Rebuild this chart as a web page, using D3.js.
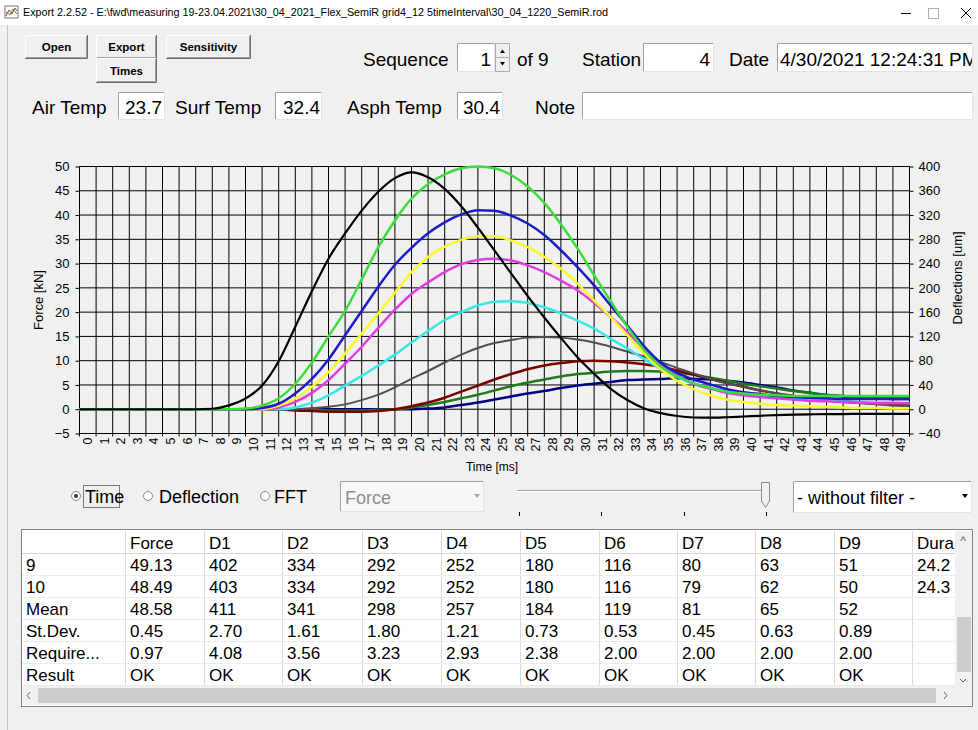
<!DOCTYPE html>
<html>
<head>
<meta charset="utf-8">
<script src="https://cdn.jsdelivr.net/npm/d3@7"></script>
<style>
  body { margin: 0; background: #f0f0f0; overflow: hidden; }
  svg { display: block; font-family: "Liberation Sans", Arial, sans-serif; }
</style>
</head>
<body>
<svg id="app"></svg>
<script>
// ---- data ----
const timeMs = [0,1,2,3,4,5,6,7,8,9,10,11,12,13,14,15,16,17,18,19,20,21,22,23,24,25,
  26,27,28,29,30,31,32,33,34,35,36,37,38,39,40,41,42,43,44,45,46,47,48,49,50];
const timeTickLabels = ["0","1","2","3","4","5","6","7","8","9","10","11","12","13","14","15","16",
  "17","18","19","20","21","22","23","24","25","26","27","28","29","30","31","32","33","34","35",
  "36","37","38","39","40","41","42","43","44","45","46","47","48","49"];
const forceTicks = [-5,0,5,10,15,20,25,30,35,40,45,50];
const deflTicks = [-40,0,40,80,120,160,200,240,280,320,360,400];

// force [kN]
const force = [0,0,0,0,0,0,0,0,0.1,0.8,2.2,4.9,9.9,17.0,24.3,31.0,36.2,40.9,44.8,47.6,48.8,
  47.8,45.4,41.8,37.4,32.7,28.0,23.3,18.9,14.7,10.7,7.3,4.2,1.9,0.2,-0.8,-1.4,-1.7,-1.75,
  -1.65,-1.5,-1.35,-1.2,-1.1,-1.05,-1.0,-1.0,-0.95,-0.95,-0.95,-0.95];
// deflections [um]
const defl1 = [0,0,0,0,0,0,0,0,0,0,1,6,18,42,77,120,162,214,267,311,347,371,387,397,400,397,386,
  367,340,305,265,221,178,136,98,71,54,43,35,29,26,24,23,22,22,22,22,22,22,22,22];
const defl2 = [0,0,0,0,0,0,0,0,0,0,0,2,9,26,50,82,122,162,202,238,266,290,308,321,328,327,319,
  306,287,262,234,204,171,138,104,77,60,49,41,33,28,25,22,20,19,18,17,17,17,17,17];
const defl3 = [0,0,0,0,0,0,0,0,0,0,0,0,6,18,37,61,92,125,158,192,226,251,268,279,285,285,278,
  267,251,232,207,179,152,122,92,66,47,33,23,16,12,9,7,6,5,4,3,2,2,1,1];
const defl4 = [0,0,0,0,0,0,0,0,0,0,0,0,3,12,27,48,75,103,134,164,190,209,226,239,246,248,245,
  237,226,212,196,175,152,127,100,75,56,42,34,27,23,20,18,16,14,13,12,11,10,10,10];
const defl5 = [0,0,0,0,0,0,0,0,0,0,0,0,0,3,11,23,39,55,72,90,110,129,147,160,171,177,178,
  175,168,158,146,133,116,100,83,67,53,42,35,29,25,22,19,17,15,14,13,12,11,11,10];
const defl6 = [0,0,0,0,0,0,0,0,0,0,0,0,0,0,2,4,8,15,24,36,50,63,77,90,101,109,114,
  118,119,118,115,110,103,95,87,78,68,59,50,43,37,31,26,22,18,15,12,10,8,6,5];
const defl7 = [0,0,0,0,0,0,0,0,0,0,0,0,0,-2,-3,-4,-4,-4,-3,0,5,11,19,29,39,49,58,
  66,72,76,79,80,79,77,74,70,64,57,50,43,37,31,26,22,18,15,13,11,9,8,7];
const defl8 = [0,0,0,0,0,0,0,0,0,0,0,0,0,0,-1,-2,-2,-2,-1,0,3,7,12,18,24,31,38,
  44,49,54,58,60,62,63,63,62,60,57,52,47,42,38,34,30,27,24,22,20,19,18,18];
const defl9 = [0,0,0,0,0,0,0,0,0,0,0,0,0,0,0,0,0,0,0,0,0,1,3,7,11,16,21,
  26,30,35,39,42,45,48,49,50,51,50,49,47,44,40,36,31,27,23,21,19,18,17,17];

const seriesNames = ["D9","D8","D7","D6","D5","D4","D3","D2","D1"];
const seriesColors = ["#000080","#1d7a1d","#7a0000","#505050","#38e8e8","#e03ce0","#f8f82a","#1c1cc8","#3cdc3c"];
const seriesValues = [defl9, defl8, defl7, defl6, defl5, defl4, defl3, defl2, defl1];

// table
const tableHeader = ["", "Force", "D1", "D2", "D3", "D4", "D5", "D6", "D7", "D8", "D9", "Dura"];
const rowLabels = ["9", "10", "Mean", "St.Dev.", "Require...", "Result"];
const row9 = ["49.13","402","334","292","252","180","116","80","63","51","24.2"];
const row10 = ["48.49","403","334","292","252","180","116","79","62","50","24.3"];
const rowMean = ["48.58","411","341","298","257","184","119","81","65","52",""];
const rowStDev = ["0.45","2.70","1.61","1.80","1.21","0.73","0.53","0.45","0.63","0.89",""];
const rowRequired = ["0.97","4.08","3.56","3.23","2.93","2.38","2.00","2.00","2.00","2.00",""];
const rowResult = ["OK","OK","OK","OK","OK","OK","OK","OK","OK","OK",""];
const tableRows = [row9, row10, rowMean, rowStDev, rowRequired, rowResult];

const W = 978, H = 730;
const svg = d3.select("#app").attr("width", W).attr("height", H);

svg.append("rect").attr("width", W).attr("height", H).attr("fill", "#f0f0f0");

// little text helper
function txt(g, x, y, s, o = {}) {
  return g.append("text")
    .attr("x", x).attr("y", y)
    .attr("font-size", o.size || 19)
    .attr("font-weight", o.weight || "normal")
    .attr("text-anchor", o.anchor || "start")
    .attr("fill", o.color || "#000")
    .text(s);
}
function sunkenBox(g, x, y, w, h, fill) {
  g.append("rect").attr("x", x).attr("y", y).attr("width", w).attr("height", h).attr("fill", fill || "#fff");
  g.append("path").attr("d", `M${x + 0.5},${y + h}V${y + 0.5}H${x + w}`).attr("stroke", "#a0a0a0").attr("fill", "none");
  g.append("path").attr("d", `M${x + w - 0.5},${y}V${y + h - 0.5}H${x}`).attr("stroke", "#e3e3e3").attr("fill", "none");
}
function button(g, x, y, w, h, label) {
  g.append("rect").attr("x", x).attr("y", y).attr("width", w).attr("height", h).attr("fill", "#f0f0f0");
  g.append("path").attr("d", `M${x + 0.5},${y + h}V${y + 0.5}H${x + w}`).attr("stroke", "#ffffff").attr("fill", "none");
  g.append("path").attr("d", `M${x + w - 0.5},${y}V${y + h - 0.5}H${x}`).attr("stroke", "#6e6e6e").attr("fill", "none");
  g.append("path").attr("d", `M${x + w - 1.5},${y + 1}V${y + h - 1.5}H${x + 1}`).attr("stroke", "#a0a0a0").attr("fill", "none");
  txt(g, x + w / 2, y + h / 2 + 4, label, { size: 11.5, weight: "bold", anchor: "middle" });
}

// ---- title bar ----
const titleBar = svg.append("g");
titleBar.append("rect").attr("width", W).attr("height", 25).attr("fill", "#fff");
titleBar.append("rect").attr("x", 5).attr("y", 6).attr("width", 13).attr("height", 12).attr("fill", "#fff").attr("stroke", "#777");
titleBar.append("path").attr("d", "M6,16L9,10L12,14L15,8L17,11").attr("stroke", "#d03030").attr("fill", "none");
titleBar.append("path").attr("d", "M6,12L10,15L13,9L17,14").attr("stroke", "#30a030").attr("fill", "none");
txt(titleBar, 23, 16, "Export 2.2.52 - E:\\fwd\\measuring 19-23.04.2021\\30_04_2021_Flex_SemiR grid4_12 5timeInterval\\30_04_1220_SemiR.rod", { size: 11 })
  .attr("textLength", 585).attr("lengthAdjust", "spacingAndGlyphs");
titleBar.append("line").attr("x1", 901).attr("x2", 911).attr("y1", 13.5).attr("y2", 13.5).attr("stroke", "#000");
titleBar.append("rect").attr("x", 928.5).attr("y", 8.5).attr("width", 10).attr("height", 10).attr("fill", "none").attr("stroke", "#b0b0b0");
titleBar.append("path").attr("d", "M961,8L971,18M971,8L961,18").attr("stroke", "#000");
svg.append("line").attr("x1", 7.5).attr("x2", 7.5).attr("y1", 25).attr("y2", H).attr("stroke", "#c4c4c4");

// ---- header controls ----
const hdr = svg.append("g");
button(hdr, 25, 35, 63, 24, "Open");
button(hdr, 96, 35, 61, 24, "Export");
button(hdr, 96, 58, 61, 25, "Times");
button(hdr, 166, 35, 85, 24, "Sensitivity");

txt(hdr, 363, 66, "Sequence");
sunkenBox(hdr, 457, 43, 38, 29);
txt(hdr, 491, 66, "1", { anchor: "end" });
// spinner
hdr.append("rect").attr("x", 495.5).attr("y", 43.5).attr("width", 14).attr("height", 14).attr("fill", "#f0f0f0").attr("stroke", "#adadad");
hdr.append("rect").attr("x", 495.5).attr("y", 57.5).attr("width", 14).attr("height", 14).attr("fill", "#f0f0f0").attr("stroke", "#adadad");
hdr.append("path").attr("d", "M500,53L502.5,49.5L505,53Z").attr("fill", "#000");
hdr.append("path").attr("d", "M500,62L502.5,65.5L505,62Z").attr("fill", "#000");
txt(hdr, 517, 66, "of 9");
txt(hdr, 582, 66, "Station");
sunkenBox(hdr, 643, 43, 71, 29);
txt(hdr, 710, 66, "4", { anchor: "end" });
txt(hdr, 729, 66, "Date");
sunkenBox(hdr, 777, 43, 196, 29);
svg.append("clipPath").attr("id", "dateClip").append("rect").attr("x", 778).attr("y", 43).attr("width", 194).attr("height", 29);
txt(hdr, 780, 66, "4/30/2021 12:24:31 PM").attr("clip-path", "url(#dateClip)");

txt(hdr, 32, 114, "Air Temp");
sunkenBox(hdr, 118, 92, 47, 28);
txt(hdr, 162, 114, "23.7", { anchor: "end" });
txt(hdr, 175, 114, "Surf Temp");
sunkenBox(hdr, 275, 92, 47, 28);
txt(hdr, 320, 114, "32.4", { anchor: "end" });
txt(hdr, 347, 114, "Asph Temp");
sunkenBox(hdr, 457, 92, 46, 28);
txt(hdr, 500, 114, "30.4", { anchor: "end" });
txt(hdr, 535, 114, "Note");
sunkenBox(hdr, 582, 92, 391, 28);

// ---- chart ----
const plot = { left: 79.5, right: 909.5, top: 166.5, bottom: 433.5 };
const x = d3.scaleLinear().domain([0, 50]).range([plot.left, plot.right]);
const yF = d3.scaleLinear().domain([-5, 50]).range([plot.bottom, plot.top]);
const yD = d3.scaleLinear().domain([-40, 400]).range([plot.bottom, plot.top]);

const chart = svg.append("g");

// grid
chart.append("g").selectAll("line").data(timeMs).join("line")
  .attr("x1", d => x(d)).attr("x2", d => x(d))
  .attr("y1", plot.top).attr("y2", plot.bottom + 3)
  .attr("stroke", "#000").attr("stroke-width", 1);
chart.append("g").selectAll("line").data(forceTicks).join("line")
  .attr("x1", plot.left).attr("x2", plot.right)
  .attr("y1", d => yF(d)).attr("y2", d => yF(d))
  .attr("stroke", "#000").attr("stroke-width", 1);

// axes
const leftAxis = chart.append("g").attr("transform", `translate(${plot.left},0)`)
  .call(d3.axisLeft(yF).tickValues(forceTicks).tickSize(4).tickPadding(6));
const rightAxis = chart.append("g").attr("transform", `translate(${plot.right},0)`)
  .call(d3.axisRight(yD).tickValues(deflTicks).tickSize(4).tickPadding(5));
[leftAxis, rightAxis].forEach(a => {
  a.select(".domain").remove();
  a.selectAll(".tick line").attr("stroke", "#000");
  a.selectAll(".tick text").attr("font-size", 13).attr("fill", "#000")
    .attr("font-family", "'Liberation Sans', Arial, sans-serif");
});

chart.append("g").selectAll("text").data(timeTickLabels).join("text")
  .attr("transform", (d, i) => `translate(${x(timeMs[i]) + 12.5},${plot.bottom + 4}) rotate(-90)`)
  .attr("text-anchor", "end")
  .attr("font-size", 12.5)
  .text(d => d);

chart.append("text").attr("transform", `translate(43,${(plot.top + plot.bottom) / 2}) rotate(-90)`)
  .attr("text-anchor", "middle").attr("font-size", 13).text("Force [kN]");
chart.append("text").attr("transform", `translate(962,278) rotate(-90)`)
  .attr("text-anchor", "middle").attr("font-size", 13).text("Deflections [um]");
chart.append("text").attr("x", 492).attr("y", 471)
  .attr("text-anchor", "middle").attr("font-size", 12).text("Time [ms]");

// series
const lineD = d3.line().x((d, i) => x(timeMs[i])).y(d => yD(d)).curve(d3.curveMonotoneX);
const lineF = d3.line().x((d, i) => x(timeMs[i])).y(d => yF(d)).curve(d3.curveMonotoneX);

chart.append("g").selectAll("path").data(seriesValues).join("path")
  .attr("class", (d, i) => "series " + seriesNames[i])
  .attr("d", lineD)
  .attr("fill", "none")
  .attr("stroke", (d, i) => seriesColors[i])
  .attr("stroke-width", (d, i) => i === 3 ? 2 : 2.5);

chart.append("path").datum(force)
  .attr("d", lineF)
  .attr("fill", "none").attr("stroke", "#000").attr("stroke-width", 2.2);

// ---- control row ----
const ctl = svg.append("g");
function radio(cx, cy, checked) {
  ctl.append("circle").attr("cx", cx).attr("cy", cy).attr("r", 4.5).attr("fill", "#fff").attr("stroke", "#8a8a8a");
  if (checked) ctl.append("circle").attr("cx", cx).attr("cy", cy).attr("r", 2).attr("fill", "#333");
}
radio(76, 496, true);
txt(ctl, 85, 503, "Time", { size: 18 });
ctl.append("rect").attr("x", 83.5).attr("y", 485.5).attr("width", 36).attr("height", 22)
  .attr("fill", "none").attr("stroke", "#000").attr("stroke-dasharray", "1,1");
radio(148, 496, false);
txt(ctl, 159, 503, "Deflection", { size: 18 });
radio(265, 496, false);
txt(ctl, 274, 503, "FFT", { size: 18 });

sunkenBox(ctl, 340, 481, 144, 31, "#f7f7f7");
txt(ctl, 345, 504, "Force", { size: 18, color: "#8d8d8d" });
ctl.append("path").attr("d", "M474,494L477,498L480,494Z").attr("fill", "#a8a8a8");

ctl.append("line").attr("x1", 517).attr("x2", 762).attr("y1", 490.5).attr("y2", 490.5).attr("stroke", "#a0a0a0");
ctl.append("line").attr("x1", 517).attr("x2", 762).attr("y1", 491.5).attr("y2", 491.5).attr("stroke", "#ffffff");
ctl.append("path").attr("d", "M761.5,482.5H769.5V501L765.5,507.5L761.5,501Z").attr("fill", "#f0f0f0").attr("stroke", "#8a8a8a");
ctl.selectAll(".tk").data([519, 601, 684, 766]).join("line")
  .attr("x1", d => d + 0.5).attr("x2", d => d + 0.5).attr("y1", 512).attr("y2", 516).attr("stroke", "#000");

sunkenBox(ctl, 793, 481, 179, 32);
txt(ctl, 797, 504, "- without filter -", { size: 18 });
ctl.append("path").attr("d", "M962,494L965,498L968,494Z").attr("fill", "#000");

// ---- table ----
const tbl = svg.append("g");
const colX = [22, 125, 204, 282, 362, 441, 520, 599, 677, 755, 834, 912, 955];
const headerTop = 531, rowH = 22;
tbl.append("rect").attr("x", 21.5).attr("y", 529.5).attr("width", 951).attr("height", 177)
  .attr("fill", "#fff").attr("stroke", "#828282");
// header separators
tbl.append("line").attr("x1", 22).attr("x2", 955).attr("y1", headerTop + rowH + 0.5).attr("y2", headerTop + rowH + 0.5).attr("stroke", "#d5d5d5");
tbl.selectAll(".vs").data(colX.slice(1, -1)).join("line")
  .attr("x1", d => d + 0.5).attr("x2", d => d + 0.5)
  .attr("y1", headerTop).attr("y2", headerTop + rowH * 7)
  .attr("stroke", "#dcdcdc");
tbl.selectAll(".hs").data(rowLabels).join("line")
  .attr("x1", 22).attr("x2", 955)
  .attr("y1", (d, i) => headerTop + rowH * (i + 2) + 0.5).attr("y2", (d, i) => headerTop + rowH * (i + 2) + 0.5)
  .attr("stroke", "#ececec");
tableHeader.forEach((h, i) => txt(tbl, colX[i] + 5, headerTop + 18, h, { size: 17 }));
rowLabels.forEach((lab, r) => {
  const yy = headerTop + rowH * (r + 1) + 18;
  txt(tbl, 26, yy, lab, { size: 17 });
  tableRows[r].forEach((v, c) => txt(tbl, colX[c + 1] + 5, yy, v, { size: 17 }));
});
// vertical scrollbar
tbl.append("rect").attr("x", 955).attr("y", 531).attr("width", 17).attr("height", 155).attr("fill", "#f0f0f0");
tbl.append("rect").attr("x", 957).attr("y", 617).attr("width", 14).attr("height", 55).attr("fill", "#cdcdcd");
txt(tbl, 963, 545, "^", { size: 12, anchor: "middle", color: "#606060" });
tbl.append("path").attr("d", "M960,679L963,682L966,679").attr("stroke", "#606060").attr("fill", "none");
// horizontal scrollbar
tbl.append("rect").attr("x", 22).attr("y", 686).attr("width", 933).attr("height", 19).attr("fill", "#f0f0f0");
tbl.append("rect").attr("x", 38).attr("y", 688).attr("width", 898).attr("height", 15).attr("fill", "#cdcdcd");
tbl.append("path").attr("d", "M30,692L27,695.5L30,699").attr("stroke", "#606060").attr("fill", "none");
tbl.append("path").attr("d", "M944,692L947,695.5L944,699").attr("stroke", "#606060").attr("fill", "none");
tbl.append("rect").attr("x", 955).attr("y", 686).attr("width", 17).attr("height", 19).attr("fill", "#f0f0f0");
</script>
</body>
</html>
